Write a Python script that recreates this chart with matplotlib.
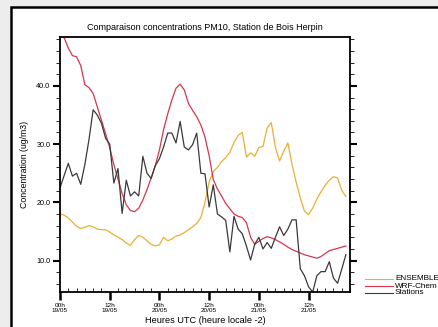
import numpy as np
import matplotlib
matplotlib.use("Agg")
import matplotlib.pyplot as plt
from matplotlib.lines import Line2D
from matplotlib.patches import Rectangle

plt.rcParams["font.family"] = ["Liberation Sans", "DejaVu Sans"]

# Hours since 19/05 00h UTC
hours = np.arange(0, 70)

ensemble = [18.0, 17.8, 17.3, 16.6, 15.9, 15.5, 15.7, 16.0, 15.8, 15.4,
            15.3, 15.3, 14.9, 14.4, 14.0, 13.6, 13.0, 12.6, 13.6, 14.3,
            14.0, 13.4, 12.8, 12.5, 12.7, 14.0, 13.4, 13.7, 14.2, 14.4,
            14.8, 15.3, 15.8, 16.4, 17.4, 20.0, 23.5, 25.3, 26.0, 27.0,
            27.7, 28.6, 30.3, 31.5, 32.0, 27.8, 28.5, 27.9, 29.4, 29.6,
            32.8, 33.7, 29.4, 27.1, 28.8, 30.2, 26.5, 23.5, 20.8, 18.5,
            17.9, 19.0, 20.6, 21.8, 22.9, 23.8, 24.4, 24.2, 22.1, 21.0]

wrf_chem = [48.8, 48.3, 46.5, 45.2, 45.0, 43.5, 40.2, 39.7, 38.7, 36.4,
            34.1, 31.8, 29.4, 26.5, 24.0, 21.5, 19.6, 18.6, 18.4, 19.0,
            20.4, 22.2, 24.2, 26.3, 29.0, 32.5, 35.2, 37.6, 39.6, 40.3,
            39.3, 37.0, 35.8, 34.7, 33.3, 31.2, 28.0, 23.9, 22.3, 21.1,
            19.8, 18.9, 18.0, 17.6, 17.4, 16.5, 14.0, 12.8, 13.3, 13.8,
            14.1, 13.9, 13.6, 13.2, 12.8, 12.3, 11.9, 11.6, 11.3, 11.0,
            10.8, 10.6, 10.4, 10.7, 11.2, 11.7, 11.9, 12.1, 12.3, 12.5]

stations = [22.5, 24.6, 26.7, 24.5, 25.0, 23.1, 26.5, 30.8, 35.9, 35.0,
            33.6, 31.0, 30.0, 23.3, 25.8, 18.1, 23.8, 21.1, 21.8, 21.1,
            27.9, 25.0, 24.1, 26.3, 27.5, 29.5, 31.9, 31.9, 30.2, 33.9,
            29.5, 29.0, 29.9, 31.9, 25.0, 24.9, 19.2, 23.0, 18.0, 17.5,
            16.9, 11.5, 17.6, 15.4, 14.6, 12.5, 10.1, 12.8, 14.0, 12.0,
            13.1, 12.1, 14.0, 15.8, 14.3, 15.4, 17.0, 17.0, 8.6, 7.4,
            5.5, 4.6, 7.4, 8.1, 8.1, 9.8, 7.0, 6.1, 8.5, 11.0]

tick_hours = [0, 12, 24, 36, 48, 60]
tick_labels = ["00h\n19/05", "12h\n19/05", "00h\n20/05",
               "12h\n20/05", "00h\n21/05", "12h\n21/05"]

series_names = ["ENSEMBLE", "WRF-Chem", "Stations"]
colors = ["#e8b035", "#d8364c", "#3a3a3a"]

W, H = 438, 327
fig = plt.figure(figsize=(W / 100, H / 100), dpi=100)
fig.patch.set_facecolor("#ededed")

# white panel with black frame
fig.add_artist(Rectangle((11 / W, -0.1), 1.2, 1 - 7 / H + 0.1,
                         transform=fig.transFigure, facecolor="white",
                         edgecolor="black", linewidth=1.8, zorder=0))

ax = fig.add_axes([60 / W, 1 - 292 / H, 290 / W, 255 / H])
ax.set_facecolor("white")

ax.plot(hours, ensemble, color=colors[0], lw=0.9)
ax.plot(hours, wrf_chem, color=colors[1], lw=0.9)
ax.plot(hours, stations, color=colors[2], lw=0.9)

ax.set_xlim(0, 70)
ax.set_ylim(4.6, 48.4)

ax.set_xticks(tick_hours)
ax.set_xticklabels(tick_labels, fontsize=4.6, linespacing=1.0)
ax.set_xticks(np.arange(0, 71, 2), minor=True)
ax.set_yticks([10, 20, 30, 40])
ax.set_yticklabels(["10.0", "20.0", "30.0", "40.0"], fontsize=5.2)
ax.set_yticks(np.arange(6, 48.5, 2), minor=True)

for s in ax.spines.values():
    s.set_linewidth(1.3)

ax.tick_params(axis="y", which="major", direction="out", length=5, width=1.5,
               left=True, right=True, pad=2)
ax.tick_params(axis="y", which="minor", direction="out", length=3, width=0.6,
               left=True, right=True)
ax.tick_params(axis="x", which="major", direction="out", length=6, width=1.8,
               top=False, pad=2)
ax.tick_params(axis="x", which="minor", direction="in", length=3, width=0.6,
               top=False)

ax.set_title("Comparaison concentrations PM10, Station de Bois Herpin",
             fontsize=6.5, pad=5)
ax.set_xlabel("Heures UTC (heure locale -2)", fontsize=6.6, labelpad=2)
ax.set_ylabel("Concentration (ug/m3)", fontsize=6.3, labelpad=5)

# legend outside on the right
legend_y = [279, 286, 293]
for name, col, yy in zip(series_names, colors, legend_y):
    fig.add_artist(Line2D([365 / W, 393 / W], [1 - yy / H, 1 - yy / H],
                          transform=fig.transFigure, color=col, lw=0.8))
    fig.text(395 / W, 1 - yy / H, name, fontsize=5.9, va="center", ha="left")

fig.savefig("out.png", dpi=100, facecolor=fig.get_facecolor())
